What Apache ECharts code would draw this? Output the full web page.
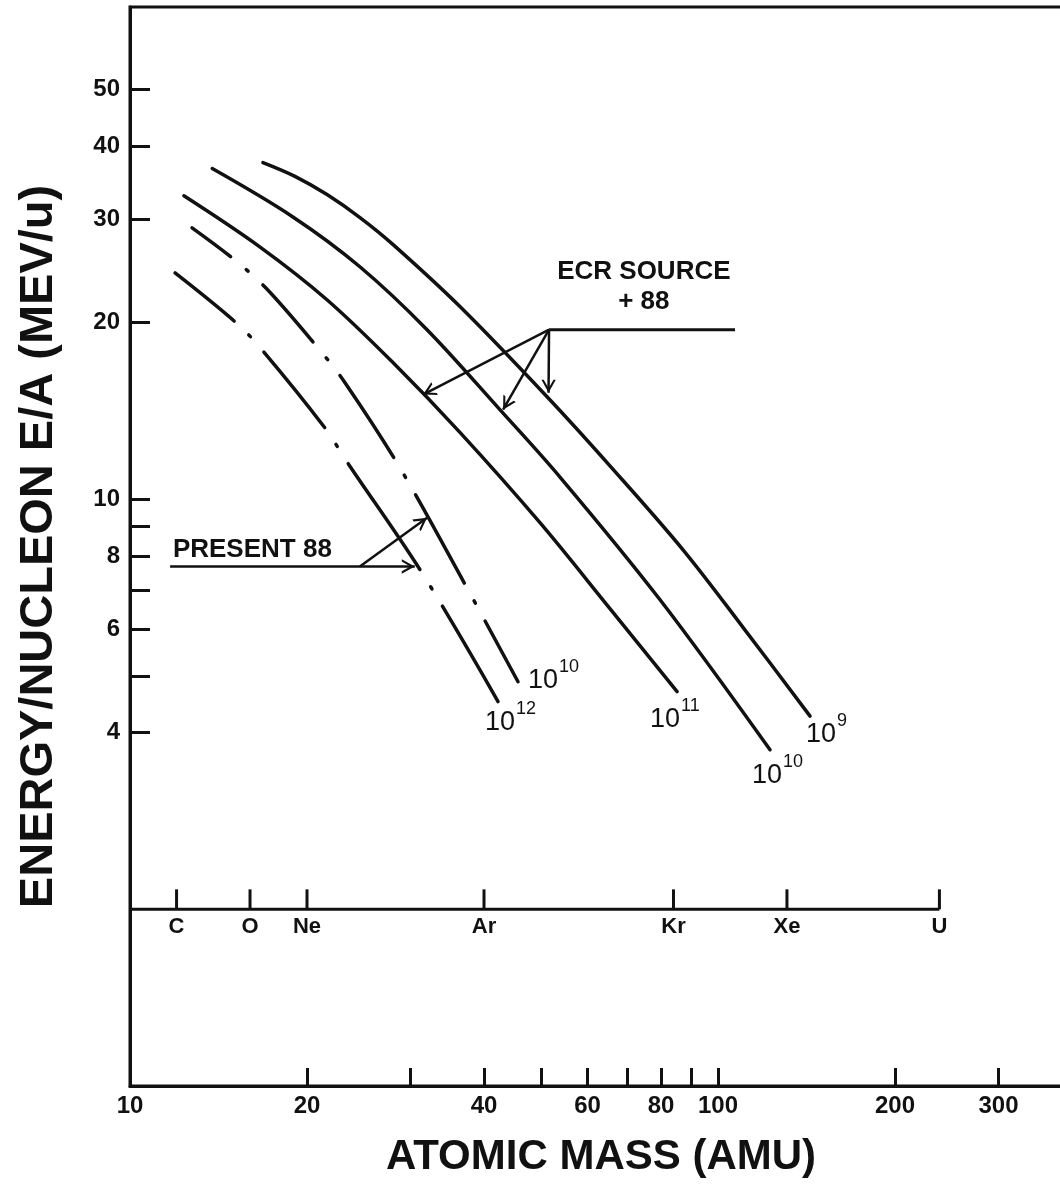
<!DOCTYPE html>
<html><head><meta charset="utf-8">
<script src="https://cdn.jsdelivr.net/npm/echarts@6/dist/echarts.min.js"></script>
<style>html,body{margin:0;padding:0;background:#fff}#c{width:1060px;height:1192px}</style>
</head><body><div id="c"></div>
<script>
// ---- axes / tick values ----
const massTicks = [20, 30, 40, 50, 60, 70, 80, 90, 100, 200, 300];
const massLabels = [10, 20, 40, 60, 80, 100, 200, 300];
const energyTicks = [4, 5, 6, 7, 8, 9, 10, 20, 30, 40, 50];
const energyLabels = [4, 6, 8, 10, 20, 30, 40, 50];

// ---- element scale (drawn at E/A = 2) ----
const elementNames = ['C', 'O', 'Ne', 'Ar', 'Kr', 'Xe', 'U'];
const elementMasses = [12, 16, 20, 40, 84, 131, 238];
const elementScaleEnergy = 2;

// ---- curves (mass in AMU, energy in MeV/u) ----
// ECR source + 88, 1e9 particles
const ecr9Mass = [16.83, 19.08, 21.63, 24.61, 28.02, 36.4, 51.2, 65.5, 87.2, 111.1, 143.4];
const ecr9Energy = [37.47, 35.5, 33.05, 30.2, 27.16, 21.3, 14.95, 11.4, 8.20, 5.99, 4.27];
// ECR source + 88, 1e10
const ecr10Mass = [13.8, 18.9, 24.6, 32.0, 42.6, 53.9, 79.7, 122.6];
const ecr10Energy = [36.6, 30.3, 24.9, 19.45, 14.2, 10.9, 6.74, 3.74];
// ECR source + 88, 1e11
const ecr11Mass = [12.35, 16.6, 21.6, 28.0, 36.4, 49.8, 65.5, 85.2];
const ecr11Energy = [32.9, 26.95, 21.9, 17.1, 13.0, 9.12, 6.51, 4.70];
// Present 88, 1e10
const pres10Mass = [12.75, 14.97, 17.03, 20.88, 23.21, 28.79, 37.57, 45.7];
const pres10Energy = [29.0, 25.7, 22.9, 18.1, 15.8, 11.3, 7.01, 4.885];
// Present 88, 1e12
const pres12Mass = [11.93, 15.14, 16.7, 21.38, 23.39, 31.38, 42.26];
const pres12Energy = [24.3, 20.0, 18.06, 13.29, 11.58, 7.49, 4.52];

// ---- annotation anchors (data coordinates) ----
const ecrApex = [51.6, 19.45];
const ecrLeaderEnd = [106.9, 19.45];
const ecrArrowTips = [[31.5, 15.08], [43.1, 14.21], [51.5, 15.19]];
const presentStart = [11.7, 7.68];
const presentTip = [30.5, 7.68];
const presentBranch = [24.6, 7.68];
const presentBranchTip = [32.0, 9.30];
const ecrTextAt = [74.8, 23.0];
const presentTextAt = [11.83, 8.2];

const FONT = '"Liberation Sans", Arial, sans-serif';
const INK = '#111';
const pairs = (xs, ys) => xs.map((x, i) => [x, ys[i]]);

function supLabel(exp, dx, dy) {
  return {
    show: true, formatter: '{b|10}{s|' + exp + '}', align: 'left', verticalAlign: 'top',
    distance: 0, offset: [dx, dy],
    rich: {
      b: { fontSize: 27, fontFamily: FONT, color: INK, padding: [9, 0, 0, 0], verticalAlign: 'bottom' },
      s: { fontSize: 18, fontFamily: FONT, color: INK, verticalAlign: 'top', padding: [0, 0, 0, 1] }
    }
  };
}
function curve(name, xs, ys, dash, label) {
  return {
    type: 'line', name, data: pairs(xs, ys), smooth: 0.35, showSymbol: false, symbol: 'none',
    lineStyle: { color: INK, width: 3.5, type: dash || 'solid', dashOffset: 0, cap: 'round' },
    endLabel: label, z: 5, silent: true
  };
}
const ARROW = 'path://M0,0 L0.1,0 L0,0.1 Z M40,0 L39.9,0 L40,0.1 Z M20,20 L31,40 L27.5,40 L20,27 L12.5,40 L9,40 Z';
const DASH_P10 = [48, 20.3, 2.5, 20.3, 76, 20.3, 2.5, 20.3, 98, 20.3, 2.5, 20.3, 101, 20.3, 2.5, 20.3, 400, 10];
const DASH_P12 = [76, 20.3, 2.5, 20.3, 97, 20.3, 2.5, 20.3, 128, 20.3, 2.5, 20.3, 400, 10];

const chart = echarts.init(document.getElementById('c'), null, { renderer: 'canvas', width: 1060, height: 1192 });
chart.setOption({
  animation: false,
  backgroundColor: '#fff',
  grid: {
    left: 130, top: 7, width: 942, height: 1079, containLabel: false, outerBoundsMode: 'none',
    show: true, borderColor: INK, borderWidth: 3, backgroundColor: 'transparent'
  },
  xAxis: {
    type: 'log', logBase: 10, min: 10, max: 400,
    axisLine: { show: true, onZero: false, lineStyle: { color: INK, width: 3 } },
    axisTick: { show: true, inside: true, length: 18, customValues: massTicks, lineStyle: { color: INK, width: 3 } },
    axisLabel: { customValues: massLabels, margin: 8, color: INK, fontFamily: FONT, fontSize: 24, fontWeight: 'bold' },
    splitLine: { show: false }, minorTick: { show: false },
    name: 'ATOMIC MASS (AMU)', nameLocation: 'middle', nameGap: 50,
    nameTextStyle: { color: INK, fontFamily: FONT, fontSize: 42, fontWeight: 'bold' }
  },
  yAxis: {
    type: 'log', logBase: 10, min: 1, max: 69,
    axisLine: { show: true, onZero: false, lineStyle: { color: INK, width: 3 } },
    axisTick: { show: true, inside: true, length: 20, customValues: energyTicks, lineStyle: { color: INK, width: 3 } },
    axisLabel: { customValues: energyLabels, margin: 10, color: INK, fontFamily: FONT, fontSize: 24, fontWeight: 'bold' },
    splitLine: { show: false }, minorTick: { show: false },
    name: 'ENERGY/NUCLEON E/A (MEV/u)', nameLocation: 'middle', nameGap: 67,
    nameTextStyle: { color: INK, fontFamily: FONT, fontSize: 47, fontWeight: 'bold' }
  },
  series: [
    curve('ECR 1e9', ecr9Mass, ecr9Energy, null, supLabel('9', -4, -4)),
    curve('ECR 1e10', ecr10Mass, ecr10Energy, null, supLabel('10', -18, 3)),
    curve('ECR 1e11', ecr11Mass, ecr11Energy, null, supLabel('11', -27, 5)),
    curve('Present 1e10', pres10Mass, pres10Energy, DASH_P10, supLabel('10', 10, -24)),
    curve('Present 1e12', pres12Mass, pres12Energy, DASH_P12, supLabel('12', -13, -2)),
    {
      type: 'line', name: 'element scale', data: [[10, elementScaleEnergy], [elementMasses[elementMasses.length - 1], elementScaleEnergy]],
      symbol: 'none', lineStyle: { color: INK, width: 3 }, silent: true, z: 4
    },
    {
      type: 'scatter', name: 'elements', silent: true, z: 4,
      data: elementNames.map((n, i) => ({ name: n, value: [elementMasses[i], elementScaleEnergy] })),
      symbol: 'rect', symbolSize: [3, 20], symbolOffset: [0, -10], itemStyle: { color: INK, opacity: 1 },
      label: { show: true, position: 'bottom', distance: 7, formatter: '{b}', color: INK, opacity: 1, fontFamily: FONT, fontSize: 22, fontWeight: 'bold' }
    },
    {
      type: 'line', name: 'ecr leader', data: [ecrApex, ecrLeaderEnd], symbol: 'none',
      lineStyle: { color: INK, width: 3 }, silent: true, z: 6
    },
    {
      type: 'lines', coordinateSystem: 'cartesian2d', silent: true, z: 6,
      symbol: ['none', ARROW], symbolSize: 26,
      lineStyle: { color: INK, width: 2.5, opacity: 1, curveness: 0 },
      data: ecrArrowTips.map(t => ({ coords: [ecrApex, t] }))
        .concat([{ coords: [presentStart, presentTip] }, { coords: [presentBranch, presentBranchTip] }])
    },
    {
      type: 'scatter', name: 'notes', silent: true, z: 7, symbolSize: 1,
      itemStyle: { color: 'rgba(0,0,0,0)', opacity: 1 },
      data: [
        { value: ecrTextAt, label: { formatter: 'ECR SOURCE\n+ 88', align: 'center' } },
        { value: presentTextAt, label: { formatter: 'PRESENT 88', align: 'left' } }
      ],
      label: { show: true, position: 'inside', color: INK, opacity: 1, fontFamily: FONT, fontSize: 26, fontWeight: 'bold', lineHeight: 30 }
    }
  ]
});
</script></body></html>
